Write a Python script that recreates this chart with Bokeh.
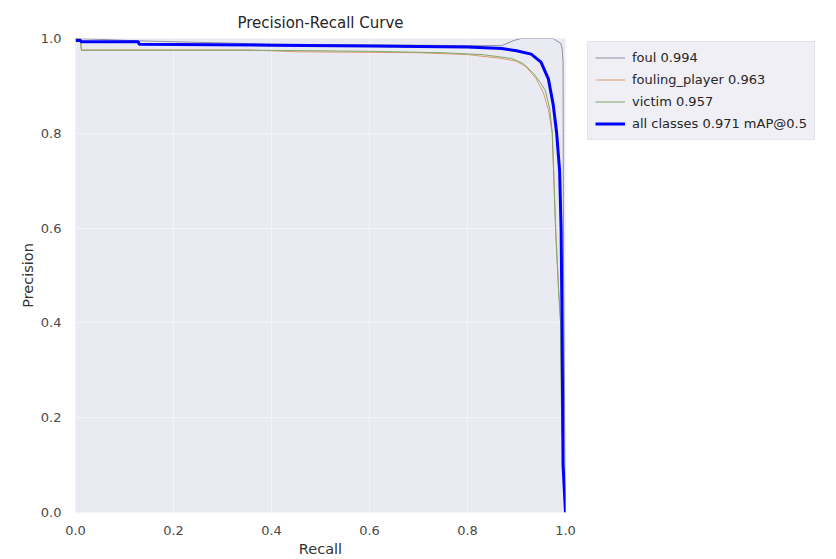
from bokeh.plotting import figure
from bokeh.models import Legend, LegendItem, FixedTicker, Range1d, PrintfTickFormatter
from bokeh.embed import file_html
from bokeh.resources import INLINE

# Per-class precision/recall samples (recall, precision)
foul_recall = [0.0, 0.13, 0.4, 0.8, 0.87, 0.895, 0.91, 0.975, 0.982, 0.99, 0.993, 0.995, 0.996, 1.0]
foul_precision = [1.0, 0.995, 0.988, 0.985, 0.985, 0.996, 1.0, 1.0, 0.995, 0.99, 0.98, 0.95, 0.5, 0.0]

fp_recall = [0.0, 0.01, 0.012, 0.35, 0.45, 0.7, 0.8, 0.87, 0.9, 0.92, 0.94, 0.955, 0.965, 0.973, 0.98, 0.986, 0.99, 0.992, 1.0]
fp_precision = [1.0, 1.0, 0.976, 0.976, 0.972, 0.970, 0.966, 0.958, 0.952, 0.94, 0.915, 0.885, 0.85, 0.80, 0.60, 0.47, 0.40, 0.2, 0.0]

victim_recall = [0.0, 0.01, 0.012, 0.4, 0.6, 0.75, 0.83, 0.89, 0.914, 0.935, 0.95, 0.959, 0.968, 0.973, 0.98, 0.986, 0.99, 0.992, 1.0]
victim_precision = [1.0, 1.0, 0.975, 0.975, 0.973, 0.970, 0.966, 0.958, 0.947, 0.926, 0.905, 0.89, 0.85, 0.80, 0.59, 0.465, 0.40, 0.2, 0.0]

all_recall = [0.0, 0.01, 0.012, 0.128, 0.13, 0.4, 0.6, 0.8, 0.87, 0.9, 0.93, 0.95, 0.965, 0.975, 0.982, 0.988, 0.991, 0.993, 0.995, 1.0]
all_precision = [0.996, 0.996, 0.993, 0.993, 0.988, 0.986, 0.984, 0.982, 0.979, 0.974, 0.967, 0.950, 0.915, 0.86, 0.80, 0.72, 0.60, 0.40, 0.10, 0.0]

labels = ["foul 0.994", "fouling_player 0.963", "victim 0.957", "all classes 0.971 mAP@0.5"]
ticks = [0.0, 0.2, 0.4, 0.6, 0.8, 1.0]

FONT = "DejaVu Sans"

p = figure(
    frame_width=490, frame_height=474,
    output_backend="svg", toolbar_location=None,
    x_range=Range1d(0, 1), y_range=Range1d(0, 1),
    min_border_left=75, min_border_right=0,
    min_border_top=38, min_border_bottom=47,
    title="Precision-Recall Curve",
)

p.background_fill_color = "#EAEAF2"
p.border_fill_color = "white"
p.outline_line_color = None

p.title.align = "center"
p.title.text_font = FONT
p.title.text_font_size = "15px"
p.title.text_font_style = "normal"
p.title.text_color = "#262626"
p.title.standoff = 13

for ax in (p.xaxis[0], p.yaxis[0]):
    ax.ticker = FixedTicker(ticks=ticks)
    ax.formatter = PrintfTickFormatter(format="%.1f")
    ax.axis_line_color = None
    ax.major_tick_line_color = None
    ax.minor_tick_line_color = None
    ax.major_label_text_font = FONT
    ax.major_label_text_font_size = "13px"
    ax.major_label_text_color = "#4a4a4a"
    ax.axis_label_text_font = FONT
    ax.axis_label_text_font_size = "14.5px"
    ax.axis_label_text_font_style = "normal"
    ax.axis_label_text_color = "#333333"

p.xaxis.axis_label = "Recall"
p.yaxis.axis_label = "Precision"
p.xaxis.major_label_standoff = 7
p.yaxis.major_label_standoff = 8
p.xaxis.axis_label_standoff = 3
p.yaxis.axis_label_standoff = 2

p.grid.grid_line_color = "white"
p.grid.grid_line_alpha = 0.45
p.grid.ticker = FixedTicker(ticks=ticks)

r_foul = p.line(foul_recall, foul_precision, line_color="#8a8fa3", line_width=1)
r_fp = p.line(fp_recall, fp_precision, line_color="#d99a6c", line_width=1)
r_victim = p.line(victim_recall, victim_precision, line_color="#7fa86b", line_width=1)
r_all = p.line(all_recall, all_precision, line_color="#0000FF", line_width=3)

legend = Legend(
    items=[
        LegendItem(label=labels[0], renderers=[r_foul]),
        LegendItem(label=labels[1], renderers=[r_fp]),
        LegendItem(label=labels[2], renderers=[r_victim]),
        LegendItem(label=labels[3], renderers=[r_all]),
    ],
    location=(22, 372),
    label_text_font=FONT,
    label_text_font_size="13px",
    label_text_color="#262626",
    glyph_width=30, glyph_height=17, label_height=17,
    spacing=5, padding=7, margin=0, label_standoff=7,
    background_fill_color="#EFEFF5", background_fill_alpha=1.0,
    border_line_color="#D8D8E2",
)
p.add_layout(legend, "right")

open("out.html", "w").write(file_html(p, INLINE))
